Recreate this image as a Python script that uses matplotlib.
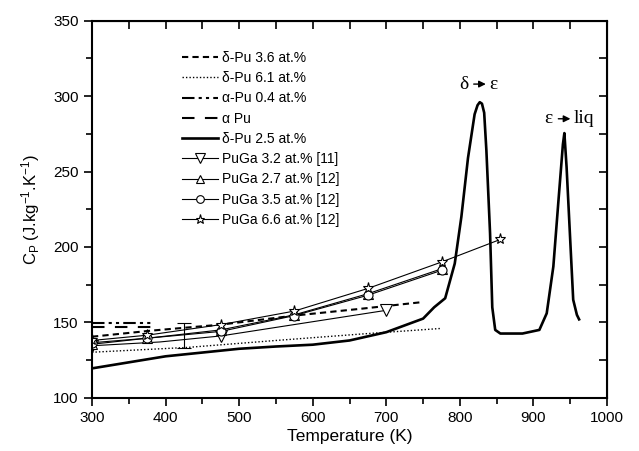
import matplotlib
matplotlib.use("Agg")
import matplotlib.pyplot as plt
from matplotlib.ticker import MultipleLocator

plt.rcParams['font.family'] = ['Liberation Sans', 'DejaVu Sans']
plt.rcParams['mathtext.default'] = 'regular'

# delta-Pu 2.5 at.% (thick solid curve, with the two transition peaks)
T_main = [300, 350, 400, 450, 500, 550, 600, 650, 700, 750, 765, 780, 793, 802, 811,
          820, 824, 827, 830, 833, 836, 841, 844, 848, 855, 885, 908, 918, 927, 934,
          940, 942, 945, 950, 954, 959, 962]
cp_main = [119.5, 123.5, 127.5, 130, 132.5, 134, 135.2, 138, 143.5, 152.5, 160, 166, 189, 220, 259,
           288, 294, 296, 295, 289, 264, 209, 160, 145, 142.6, 142.6, 145, 156, 187, 231,
           268, 275.5, 253, 204, 165, 155, 152]

# delta-Pu 3.6 at.% (dashed)
T_d36 = [300, 380, 475, 575, 665, 750]
cp_d36 = [140.5, 144.5, 148.5, 154.5, 159, 163.5]

# delta-Pu 6.1 at.% (dotted)
T_d61 = [300, 430, 550, 664, 775]
cp_d61 = [130.2, 133.4, 138, 142.2, 146]

# alpha-Pu 0.4 at.% and alpha Pu
T_a04 = [300, 383]
cp_a04 = [149.7, 149.7]
T_apu = [300, 383]
cp_apu = [147, 147]

# PuGa series
T_g32 = [300, 392, 475, 700]
cp_g32 = [134.5, 137, 141, 158]
T_g27 = [300, 375, 475, 575, 675, 775]
cp_g27 = [135.5, 139.5, 145, 155, 169, 185.5]
T_g35 = [300, 375, 475, 575, 675, 775]
cp_g35 = [136.5, 139.5, 144, 154.5, 168, 184.5]
T_g66 = [300, 375, 475, 575, 675, 775, 855]
cp_g66 = [138, 141.5, 148.5, 157.5, 172.5, 190, 205]

# standalone error bar
T_err = [425]
cp_err = [141]
err = [8.3]

fig = plt.figure(figsize=(6.39, 4.51), dpi=100)
ax = fig.add_axes([0.144, 0.118, 0.806, 0.836])

ax.plot(T_d36, cp_d36, color='black', lw=1.5, dashes=(3, 2), label='δ-Pu 3.6 at.%')
ax.plot(T_d61, cp_d61, color='black', lw=1.0, dashes=(1, 1.5), label='δ-Pu 6.1 at.%')
ax.plot(T_a04, cp_a04, color='black', lw=1.5, dashes=(6, 2, 1.5, 2, 1.5, 2), label='α-Pu 0.4 at.%')
ax.plot(T_apu, cp_apu, color='black', lw=1.5, dashes=(6, 5), label='α Pu')
ax.plot(T_main, cp_main, color='black', lw=1.9, label='δ-Pu 2.5 at.%')

mk = dict(color='black', lw=0.8, markerfacecolor='white', markeredgecolor='black',
          markeredgewidth=0.8)
ax.plot(T_g32, cp_g32, marker='v', ms=8, markevery=[0, 2, 3], label='PuGa 3.2 at.% [11]', **mk)
ax.plot(T_g27, cp_g27, marker='^', ms=7, label='PuGa 2.7 at.% [12]', **mk)
ax.plot(T_g35, cp_g35, marker='o', ms=6.5, label='PuGa 3.5 at.% [12]', **mk)
ax.plot(T_g66, cp_g66, marker='*', ms=8, label='PuGa 6.6 at.% [12]', **mk)

ax.errorbar(T_err, cp_err, yerr=err, fmt='none', ecolor='black', elinewidth=0.8,
            capsize=5, capthick=0.8)

# transition labels
serif = ['Liberation Serif', 'DejaVu Serif']
ax.text(805, 308, 'δ', family=serif, fontsize=14, ha='center', va='center')
ax.text(845, 308, 'ε', family=serif, fontsize=14, ha='center', va='center')
ax.annotate('', xy=(839, 308), xytext=(815, 308),
            arrowprops=dict(arrowstyle='-|>', color='black', lw=1, mutation_scale=10))
ax.text(920, 285, 'ε', family=serif, fontsize=14, ha='center', va='center')
ax.text(955, 285, 'liq', family=serif, fontsize=14, ha='left', va='center')
ax.annotate('', xy=(954, 285), xytext=(930, 285),
            arrowprops=dict(arrowstyle='-|>', color='black', lw=1, mutation_scale=10))

ax.set_xlim(300, 1000)
ax.set_ylim(100, 350)
ax.xaxis.set_major_locator(MultipleLocator(100))
ax.xaxis.set_minor_locator(MultipleLocator(50))
ax.yaxis.set_major_locator(MultipleLocator(50))
ax.yaxis.set_minor_locator(MultipleLocator(25))
ax.tick_params(which='both', direction='out', width=1.2, labelsize=11)
ax.tick_params(which='major', length=6)
ax.tick_params(which='minor', length=4)
for s in ax.spines.values():
    s.set_linewidth(1.5)

# ticks on top/right, pointing inward
axt = ax.secondary_xaxis('top')
axt.xaxis.set_major_locator(MultipleLocator(100))
axt.xaxis.set_minor_locator(MultipleLocator(50))
axt.tick_params(which='both', direction='in', length=6, width=1.2, labeltop=False)
axr = ax.secondary_yaxis('right')
axr.yaxis.set_major_locator(MultipleLocator(50))
axr.yaxis.set_minor_locator(MultipleLocator(25))
axr.tick_params(which='both', direction='in', length=6, width=1.2, labelright=False)

ax.set_xlabel('Temperature (K)', fontsize=12.5, labelpad=3)
ax.set_ylabel('C$_P$ (J.kg$^{-1}$.K$^{-1}$)', fontsize=12, labelpad=8)

ax.legend(loc='upper left', bbox_to_anchor=(0.175, 0.92), frameon=False, fontsize=10,
          handlelength=2.6, handletextpad=0.3, labelspacing=0.45, borderpad=0,
          borderaxespad=0, numpoints=1, markerscale=0.85)

fig.savefig('out.png', dpi=100)
